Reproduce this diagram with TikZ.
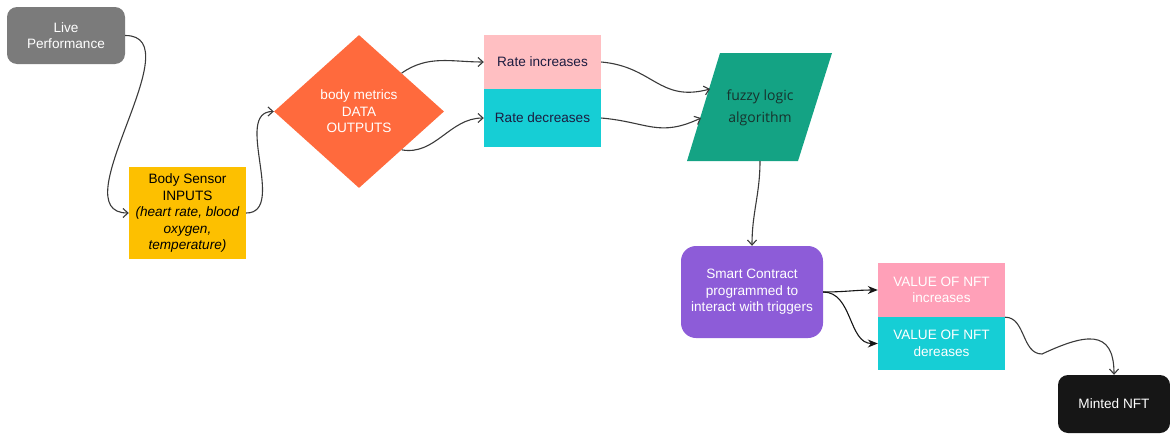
\documentclass[tikz,border=0pt]{standalone}
\usepackage{fontspec}
\setmainfont{Liberation Sans}
\newfontfamily\fuzzyfont{Open Sans}
\usetikzlibrary{shapes,arrows.meta}
\definecolor{livegray}{HTML}{7B7B7B}
\definecolor{sensoryellow}{HTML}{FDC000}
\definecolor{metricorange}{HTML}{FF6A3D}
\definecolor{ratepink}{HTML}{FFBFC2}
\definecolor{ratecyan}{HTML}{16CED5}
\definecolor{fuzzygreen}{HTML}{14A384}
\definecolor{fuzzytext}{HTML}{17332D}
\definecolor{contractpurple}{HTML}{8D5CD8}
\definecolor{valuepink}{HTML}{FFA0B8}
\definecolor{mintblack}{HTML}{161616}
\definecolor{ratetext}{HTML}{1C1C40}
\definecolor{linegray}{HTML}{3A3A3A}

\begin{document}
\begin{tikzpicture}[x=1pt,y=-1pt,
        every node/.style={font=\fontsize{13.6}{16.5}\selectfont,align=center,inner sep=2pt},
        ratebox/.style={rectangle,minimum width=117pt,text=ratetext},
        valuebox/.style={rectangle,minimum width=127pt,text=white},
        flow/.style={draw=linegray,line width=1.1pt,-{Straight Barb[length=5pt,width=9pt]}},
        solidflow/.style={draw=mintblack,line width=1.1pt,-{Stealth[length=10pt,width=8pt]}}]
        \useasboundingbox (0,0) rectangle (1170,434);
        \node[rectangle,rounded corners=10pt,fill=livegray,text=white,minimum width=118pt,minimum height=57pt] (live) at (66,35.5) {Live\\Performance};
        \node[rectangle,fill=sensoryellow,text=black,minimum width=117pt,minimum height=92pt] (sensor) at (187.5,213) {Body Sensor\\INPUTS\\\textit{(heart rate, blood}\\\textit{oxygen,}\\\textit{temperature)}};
        \node[diamond,fill=metricorange,text=white,minimum width=170pt,minimum height=153pt,inner sep=0pt] (metrics) at (359,111.5) {body metrics\\DATA\\OUTPUTS};
        \node[ratebox,fill=ratepink,minimum height=54pt] (rateup) at (542.5,62) {Rate increases};
        \node[ratebox,fill=ratecyan,minimum height=58pt] (ratedown) at (542.5,118) {Rate decreases};
        \fill[fuzzygreen] (720,53) -- (832,53) -- (798,161) -- (687,161) -- cycle;
        \node[text=fuzzytext,font=\fuzzyfont\fontsize{14}{22}\selectfont] (fuzzy) at (760,108) {fuzzy logic\\algorithm};
        \coordinate (fuzzyinup) at (710,89);
        \coordinate (fuzzyindown) at (701,118);
        \coordinate (fuzzyout) at (760,161);
        \node[rectangle,rounded corners=15pt,fill=contractpurple,text=white,minimum width=142pt,minimum height=92pt] (contract) at (752,292) {Smart Contract\\programmed to\\interact with triggers};
        \node[valuebox,fill=valuepink,minimum height=54pt] (valueup) at (941.5,290) {VALUE OF NFT\\increases};
        \node[valuebox,fill=ratecyan,minimum height=53pt] (valuedown) at (941.5,343.5) {VALUE OF NFT\\dereases};
        \node[rectangle,rounded corners=10pt,fill=mintblack,text=white,minimum width=112pt,minimum height=58pt] (minted) at (1114,404) {Minted NFT};
        \coordinate (dip) at (1042,354);

        \draw[flow] (live.east) to[out=0,in=180] (sensor.west);
        \draw[flow] (sensor.east) to[out=0,in=180] (metrics.west);
        \draw[flow] (metrics.north east) to[out=35,in=180] (rateup.west);
        \draw[flow] (metrics.south east) to[out=-10,in=180] (ratedown.west);
        \draw[flow] (rateup.east) to[out=-5,in=195,looseness=1.2] (fuzzyinup);
        \draw[flow] (ratedown.east) to[out=-5,in=205,looseness=1.2] (fuzzyindown);
        \draw[flow] (fuzzyout) to[out=-90,in=90] (contract.north);
        \draw[solidflow] (contract.east) to[out=0,in=180] (valueup.west);
        \draw[solidflow] (contract.east) to[out=0,in=180] (valuedown.west);
        \draw[flow] (valueup.south east) to[out=0,in=180] (dip) to[out=25,in=90,looseness=1.6] (minted.north);
\end{tikzpicture}
\end{document}
